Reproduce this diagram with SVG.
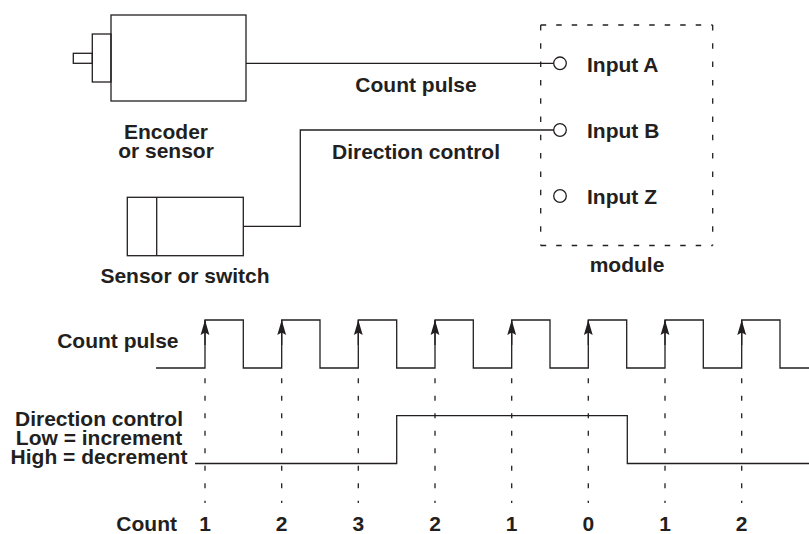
<svg xmlns="http://www.w3.org/2000/svg" width="809" height="534" viewBox="0 0 809 534">
<style>
.ln{fill:none;stroke:#231f20;stroke-width:1.3}
.t{font-family:"Liberation Sans",Arial,sans-serif;font-weight:bold;font-size:21px;fill:#231f20}
.m{text-anchor:middle}
.e{text-anchor:end}
.dv{fill:none;stroke:#231f20;stroke-width:1.3;stroke-dasharray:5 12.5}
.dh{fill:none;stroke:#231f20;stroke-width:1.3;stroke-dasharray:5.5 10}
.dvb{fill:none;stroke:#231f20;stroke-width:1.3;stroke-dasharray:5.5 12.8}
</style>
<defs>
<marker id="arr" viewBox="-16 -5 17 10" markerWidth="17" markerHeight="10" refX="0" refY="0" orient="auto" markerUnits="userSpaceOnUse">
<path d="M0,0 L-15,-4.4 L-12.5,0 L-15,4.4 Z" fill="#231f20"/>
</marker>
</defs>
<rect width="809" height="534" fill="#fff"/>

<g id="encoder">
<rect class="ln" x="111" y="15" width="135" height="86"/>
<rect class="ln" x="92.3" y="34" width="18.7" height="48"/>
<rect class="ln" x="73.3" y="53.3" width="19" height="10"/>
<text class="t m" x="166" y="139">Encoder</text>
<text class="t m" x="166" y="158">or sensor</text>
</g>

<g id="sensor">
<rect class="ln" x="127.3" y="197.3" width="116" height="58.4"/>
<line class="ln" x1="156.7" y1="197.3" x2="156.7" y2="255.7"/>
<text class="t m" x="185" y="283">Sensor or switch</text>
</g>

<g id="module">
<path class="dh" d="M540.7,25 H712.7 M540.7,245.5 H712.7"/>
<path class="dvb" d="M540.7,25 V245.5 M712.7,25 V245.5"/>
<circle class="ln" cx="560" cy="63.3" r="6.3"/>
<circle class="ln" cx="560" cy="130" r="6.3"/>
<circle class="ln" cx="560" cy="196" r="6.3"/>
<text class="t" x="587" y="71.7">Input A</text>
<text class="t" x="587" y="138.4">Input B</text>
<text class="t" x="587" y="204.4">Input Z</text>
<text class="t m" x="627" y="271.7">module</text>
</g>

<g id="connectors">
<line class="ln" x1="246" y1="63.3" x2="553.7" y2="63.3"/>
<polyline class="ln" points="243.3,226.3 300.3,226.3 300.3,130 553.7,130"/>
<text class="t m" x="416" y="91.7">Count pulse</text>
<text class="t m" x="416" y="159.3">Direction control</text>
</g>

<g id="timing">
<polyline class="ln" points="156,368 205,368 205,320 243.3,320 243.3,368 281.7,368 281.7,320 320,320 320,368 358.3,368 358.3,320 396.7,320 396.7,368 435,368 435,320 473.3,320 473.3,368 511.7,368 511.7,320 550,320 550,368 588.3,368 588.3,320 626.7,320 626.7,368 665,368 665,320 703.3,320 703.3,368 741.7,368 741.7,320 780,320 780,368 809,368"/>
<g>
<line class="ln" x1="205" y1="345" x2="205" y2="320" marker-end="url(#arr)"/>
<line class="ln" x1="281.7" y1="345" x2="281.7" y2="320" marker-end="url(#arr)"/>
<line class="ln" x1="358.3" y1="345" x2="358.3" y2="320" marker-end="url(#arr)"/>
<line class="ln" x1="435" y1="345" x2="435" y2="320" marker-end="url(#arr)"/>
<line class="ln" x1="511.7" y1="345" x2="511.7" y2="320" marker-end="url(#arr)"/>
<line class="ln" x1="588.3" y1="345" x2="588.3" y2="320" marker-end="url(#arr)"/>
<line class="ln" x1="665" y1="345" x2="665" y2="320" marker-end="url(#arr)"/>
<line class="ln" x1="741.7" y1="345" x2="741.7" y2="320" marker-end="url(#arr)"/>
</g>
<polyline class="ln" points="195,463.5 396.7,463.5 396.7,415.7 627.3,415.7 627.3,463.5 809,463.5"/>
<path class="dv" d="M205,378.3 V503 M281.7,378.3 V503 M358.3,378.3 V503 M435,378.3 V503 M511.7,378.3 V503 M588.3,378.3 V503 M665,378.3 V503 M741.7,378.3 V503"/>
<text class="t e" x="178.5" y="348">Count pulse</text>
<text class="t m" x="99" y="426">Direction control</text>
<text class="t m" x="99" y="445">Low = increment</text>
<text class="t m" x="99" y="463.5">High = decrement</text>
<text class="t e" x="177" y="530.5">Count</text>
<text class="t m" x="205" y="530.5">1</text>
<text class="t m" x="281.7" y="530.5">2</text>
<text class="t m" x="358.3" y="530.5">3</text>
<text class="t m" x="435" y="530.5">2</text>
<text class="t m" x="511.7" y="530.5">1</text>
<text class="t m" x="588.3" y="530.5">0</text>
<text class="t m" x="665" y="530.5">1</text>
<text class="t m" x="741.7" y="530.5">2</text>
</g>
</svg>
